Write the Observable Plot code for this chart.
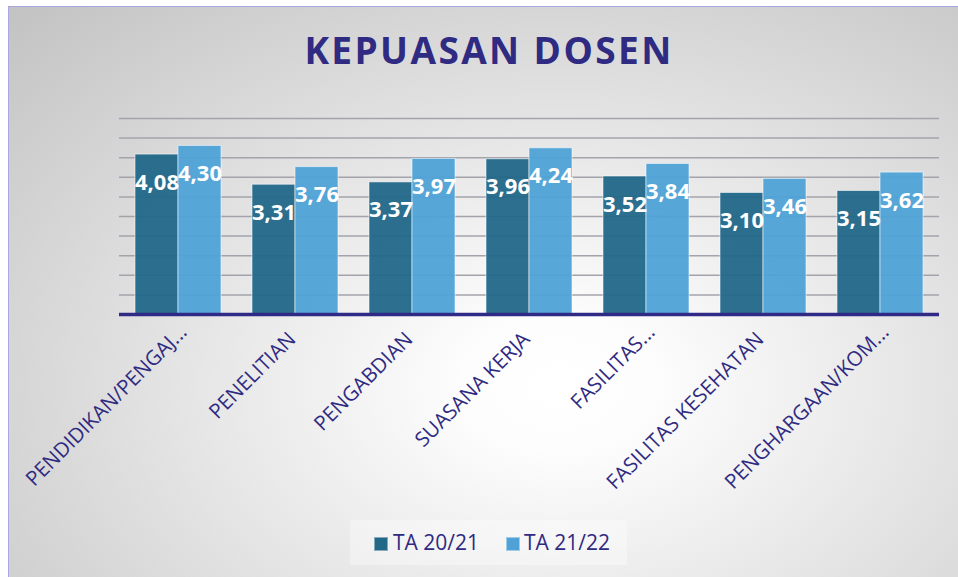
<!DOCTYPE html>
<html>
<head>
<meta charset="utf-8">
<script src="https://cdn.jsdelivr.net/npm/d3@7"></script>
<script src="https://cdn.jsdelivr.net/npm/@observablehq/plot@0.6"></script>
<style>
  html, body { margin: 0; padding: 0; }
  body { width: 958px; height: 577px; overflow: hidden; position: relative; font-family: "Open Sans", sans-serif; }
  #frame { position: absolute; left: 8px; top: 6px; width: 980px; height: 600px;
    border-left: 1.5px solid #aaa5e4; border-top: 1.5px solid #aaa5e4;
    background: radial-gradient(ellipse farthest-corner at 56% 63%, #ffffff 0%, #fdfdfd 12%, #c2c2c2 100%); }
  .layer { position: absolute; left: 0; top: 0; }
  #title { position: absolute; left: 489px; top: 31px; transform: translateX(-50%); white-space: nowrap;
    font: 700 37px/37px "Open Sans", sans-serif; letter-spacing: 2.4px; color: #2f2a82; }
  #legendbox { position: absolute; left: 350px; top: 520px; width: 277px; height: 45px; background: rgba(255,255,255,0.35); }
  .sw { position: absolute; width: 12px; height: 12px; border: 1px solid rgba(255,255,255,0.45); }
  .lt { position: absolute; font: 400 21px/21px "Open Sans", sans-serif; color: #2f2a82; white-space: nowrap; }
</style>
</head>
<body>
<div id="frame"></div>
<div id="layers"></div>
<div id="title">KEPUASAN DOSEN</div>
<div id="legendbox"></div>
<script>
const categories = ["PENDIDIKAN/PENGAJ...", "PENELITIAN", "PENGABDIAN", "SUASANA KERJA", "FASILITAS...", "FASILITAS KESEHATAN", "PENGHARGAAN/KOM..."];
const seriesNames = ["TA 20/21", "TA 21/22"];
const valuesTA2021 = [4.08, 3.31, 3.37, 3.96, 3.52, 3.10, 3.15];
const valuesTA2122 = [4.30, 3.76, 3.97, 4.24, 3.84, 3.46, 3.62];
const seriesColors = ["#226788", "#4fa2d7"];
const yTicks = [0.5, 1, 1.5, 2, 2.5, 3, 3.5, 4, 4.5, 5];

const data = [];
categories.forEach((c, i) => {
  data.push({cat: c, series: seriesNames[0], value: valuesTA2021[i]});
  data.push({cat: c, series: seriesNames[1], value: valuesTA2122[i]});
});

const W = 958, H = 577;
const common = {
  width: W, height: H,
  marginTop: 118, marginBottom: 263, marginLeft: 119, marginRight: 19,
  style: {background: "transparent", fontFamily: "Open Sans", overflow: "visible"}
};
const bandX = {type: "band", domain: categories, paddingInner: 0.253, paddingOuter: 0.127, axis: null};
const yScale = {domain: [0, 5], axis: null};
const labelColor = "#2f2a82";

// Layer 1: gridlines + category labels
const isCut = d => d.endsWith("...");
const gridPlot = Plot.plot({
  ...common,
  x: bandX,
  y: yScale,
  marks: [
    Plot.ruleY(yTicks, {stroke: "#a3a3ac", strokeWidth: 1.5}),
    Plot.text(categories.filter(d => !isCut(d)), {x: d => d, frameAnchor: "bottom", dx: 2, dy: 26, rotate: -45,
      textAnchor: "end", fill: labelColor, fontSize: 20.5, fontFamily: "Open Sans"}),
    Plot.text(categories.filter(isCut), {x: d => d, frameAnchor: "bottom", dx: 10, dy: 19, rotate: -45,
      textAnchor: "end", fill: labelColor, fontSize: 20.5, fontFamily: "Open Sans"})
  ]
});

// Layer 2: bars + value labels
const barPlot = Plot.plot({
  ...common,
  fx: {domain: categories, paddingInner: 0.253, paddingOuter: 0.127, axis: null, label: null},
  x: {domain: seriesNames, padding: 0, axis: null},
  y: yScale,
  color: {domain: seriesNames, range: seriesColors},
  marks: [
    Plot.barY(data, {fx: "cat", x: "series", y: "value", fill: "series", fillOpacity: 0.95,
      stroke: "#ffffff", strokeOpacity: 0.55, strokeWidth: 1, inset: 0}),
    Plot.text(data, {fx: "cat", x: "series", y: "value", text: d => d.value.toFixed(2).replace(".", ","),
      dy: 28, fill: "white", fontWeight: "bold", fontSize: 22, fontFamily: "Open Sans"})
  ]
});

// Layer 3: baseline on top
const basePlot = Plot.plot({
  ...common,
  x: bandX,
  y: yScale,
  marks: [
    Plot.ruleY([0], {stroke: "#2e2a86", strokeWidth: 3.4})
  ]
});

const layers = document.getElementById("layers");
[gridPlot, barPlot, basePlot].forEach(p => { p.classList.add("layer"); layers.appendChild(p); });

// Legend
const lb = document.getElementById("legendbox");
const legendPos = [{sw: 24, tx: 43}, {sw: 156, tx: 174}];
seriesNames.forEach((s, i) => {
  const sw = document.createElement("div");
  sw.className = "sw";
  sw.style.left = legendPos[i].sw + "px";
  sw.style.top = "17px";
  sw.style.background = seriesColors[i];
  lb.appendChild(sw);
  const t = document.createElement("div");
  t.className = "lt";
  t.style.left = legendPos[i].tx + "px";
  t.style.top = "12px";
  t.textContent = s;
  lb.appendChild(t);
});
</script>
</body>
</html>
